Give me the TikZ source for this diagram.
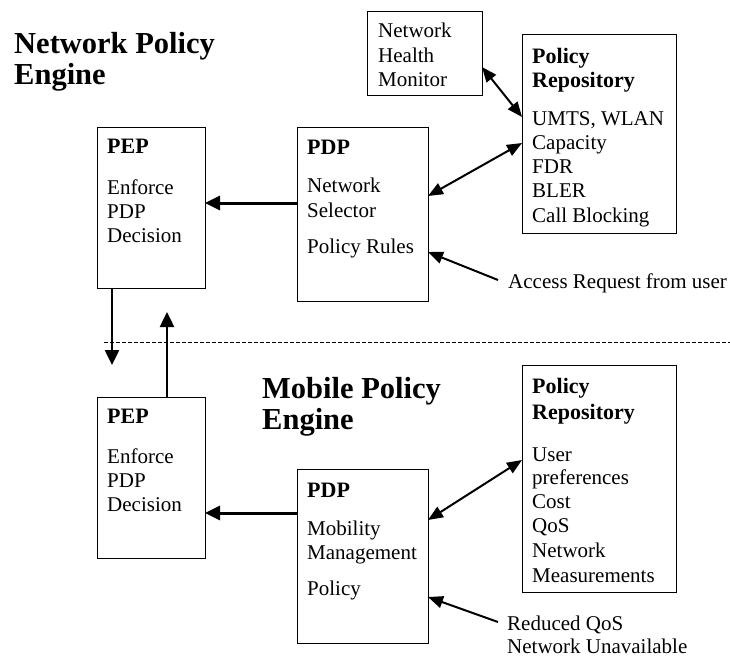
\documentclass[tikz,border=0pt]{standalone}
\usepackage{fontspec}
\setmainfont{Liberation Serif}
\usetikzlibrary{arrows.meta,calc}
\begin{document}
\begin{tikzpicture}[x=1pt,y=-1pt,
  box/.style={draw, line width=1pt, anchor=north west, inner sep=0pt, outer sep=0pt},
  txt/.style={anchor=base west, inner sep=0pt, font=\fontsize{21}{24}\selectfont},
  hdr/.style={anchor=base west, inner sep=0pt, font=\fontsize{22}{26}\selectfont\bfseries},
  ttl/.style={anchor=base west, inner sep=0pt, font=\fontsize{30.5}{36}\selectfont\bfseries},
  harr/.style={line width=3pt, -{Triangle[length=15pt,width=14pt]}},
  varr/.style={line width=2.5pt, -{Triangle[length=15pt,width=14pt]}},
  darr/.style={line width=2pt, -{Triangle[length=15pt,width=12pt]}},
  dbl/.style={line width=2pt, {Triangle[length=15pt,width=12pt]}-{Triangle[length=15pt,width=12pt]}},
  sep/.style={line width=0.8pt, dash pattern=on 4pt off 2pt}]
\useasboundingbox (0,0) rectangle (730,657);

% titles
\node[ttl] (ti1) at (14,53) {Network Policy};
\node[ttl] (ti2) at (14,84) {Engine};
\node[ttl] (ti3) at (262,398) {Mobile Policy};
\node[ttl] (ti4) at (262,429) {Engine};

% boxes
\node[box, minimum width=115pt, minimum height=84pt]  (nhm)   at (367,11)  {};
\node[box, minimum width=154pt, minimum height=199pt] (repo1) at (522,34)  {};
\node[box, minimum width=108pt, minimum height=161pt] (pep1)  at (97,127)  {};
\node[box, minimum width=131pt, minimum height=174pt] (pdp1)  at (297,127) {};
\node[box, minimum width=154pt, minimum height=227pt] (repo2) at (522,365) {};
\node[box, minimum width=108pt, minimum height=161pt] (pep2)  at (97,397)  {};
\node[box, minimum width=131pt, minimum height=174pt] (pdp2)  at (297,469) {};

% texts: network health monitor
\foreach \t/\y [count=\i] in {Network/37, Health/62, Monitor/86}
  \node[txt] (nhmT\i) at (378,\y) {\t};
% policy repository (top)
\node[hdr] (r1h1) at (532,63) {Policy};
\node[hdr] (r1h2) at (532,87) {Repository};
\foreach \t/\y [count=\i] in {{UMTS, WLAN}/125, Capacity/149, FDR/173, BLER/197, Call Blocking/222}
  \node[txt] (r1T\i) at (532,\y) {\t};
% PEP (top)
\node[hdr] (p1h) at (107,153) {PEP};
\foreach \t/\y [count=\i] in {Enforce/194, PDP/218, Decision/242}
  \node[txt] (p1T\i) at (107,\y) {\t};
% PDP (top)
\node[hdr] (d1h) at (307,154) {PDP};
\foreach \t/\y [count=\i] in {Network/192, Selector/217, Policy Rules/253}
  \node[txt] (d1T\i) at (307,\y) {\t};
\node[txt] (acc) at (508,288) {Access Request from user};

% policy repository (bottom)
\node[hdr] (r2h1) at (532,393) {Policy};
\node[hdr] (r2h2) at (532,419) {Repository};
\foreach \t/\y [count=\i] in {User/461, preferences/484, Cost/508, QoS/532, Network/557, Measurements/582}
  \node[txt] (r2T\i) at (532,\y) {\t};
% PEP (bottom)
\node[hdr] (p2h) at (107,423) {PEP};
\foreach \t/\y [count=\i] in {Enforce/463, PDP/487, Decision/511}
  \node[txt] (p2T\i) at (107,\y) {\t};
% PDP (bottom)
\node[hdr] (d2h) at (307,497) {PDP};
\foreach \t/\y [count=\i] in {Mobility/535, Management/559, Policy/595}
  \node[txt] (d2T\i) at (307,\y) {\t};
\node[txt] (red1) at (507,630) {Reduced QoS};
\node[txt] (red2) at (507,653) {Network Unavailable};

% separator
\coordinate (sepL) at (104,342);
\coordinate (sepR) at (730,342);
\draw[sep] (sepL) -- (sepR);

% connectors (top)
\draw[harr] (pdp1.west |- 0,203) -- (pep1.east |- 0,203);
\draw[dbl] (repo1.west |- 0,143) -- (pdp1.east |- 0,196);
\draw[dbl] (nhm.east |- 0,67) -- (repo1.west |- 0,117);
\coordinate (accTail) at (498,280);
\draw[darr] (accTail) -- (pdp1.east |- 0,252);

% vertical connectors
\coordinate (downTip) at (112,365);
\draw[varr] (pep1.south -| downTip) -- (downTip);
\coordinate (upTip) at (167,312);
\draw[varr] (pep2.north -| upTip) -- (upTip);

% connectors (bottom)
\draw[harr] (pdp2.west |- 0,513) -- (pep2.east |- 0,513);
\draw[dbl] (repo2.west |- 0,460) -- (pdp2.east |- 0,520);
\coordinate (redTail) at (498,622);
\draw[darr] (redTail) -- (pdp2.east |- 0,597);
\end{tikzpicture}
\end{document}
